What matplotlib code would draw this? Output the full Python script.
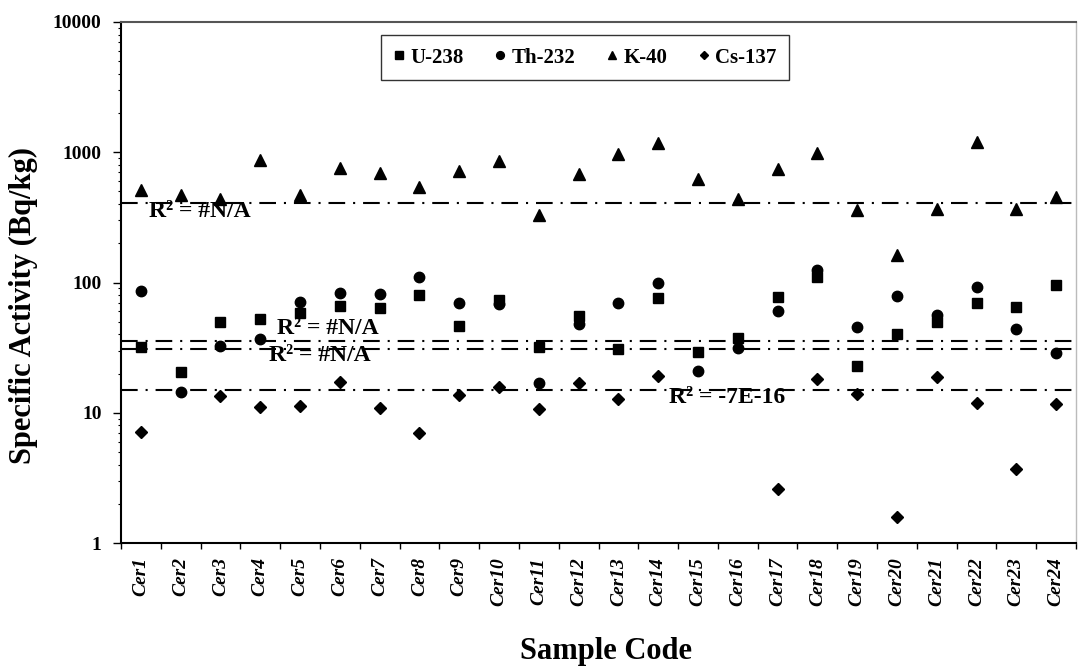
import matplotlib
matplotlib.use("Agg")
import matplotlib.pyplot as plt
import numpy as np

plt.rcParams['font.family'] = ['Liberation Serif', 'DejaVu Serif']
plt.rcParams['font.weight'] = 'bold'

# %% data

samples = ['Cer%d' % i for i in range(1, 25)]

u238 = [32, 20.7, 50, 52.5, 58, 66, 63.4, 80, 46.4, 73.4, 32, 55,
        31, 75.7, 29.4, 37.3, 77.8, 111, 22.9, 40, 50, 70, 64.5, 95.7]
th232 = [86.5, 14.5, 32.7, 36.6, 71, 82.6, 81, 111, 69, 68, 16.8, 48,
         69, 100, 21, 31.3, 60.4, 125, 45.3, 79, 56, 93, 44, 28.6]
k40 = [513, 470, 438, 872, 470, 761, 687, 538, 720, 857, 330, 680,
       970, 1183, 623, 438, 743, 993, 360, 163, 367, 1192, 367, 456]
# no Cs-137 mark is visible for Cer2, Cer15, Cer16
cs137 = [7.08, np.nan, 13.5, 11.0, 11.3, 17.3, 10.8, 7.0, 13.7, 15.9, 10.6, 17,
         12.8, 19.1, np.nan, np.nan, 2.6, 18.1, 13.9, 1.57, 18.9, 11.8, 3.7, 11.6]

# flat trendlines drawn by the spreadsheet, with their labels
trend_levels = [30.7, 35.7, 410, 14.9]
trend_labels = ['R\u00b2 = #N/A', 'R\u00b2 = #N/A', 'R\u00b2 = #N/A', 'R\u00b2 = -7E-16']
label_pos = [(3.23, 27.3), (3.43, 44.7), (0.21, 348), (13.26, 13.0)]

# %% plot

fig = plt.figure(figsize=(10.79, 6.70), dpi=100)
ax = fig.add_axes([121 / 1079, 127 / 670, 955 / 1079, 521 / 670])

x = np.arange(len(samples))
ax.plot(x, u238, 's', color='black', markersize=7, label='U-238')
ax.plot(x, th232, 'o', color='black', markersize=7.5, label='Th-232')
ax.plot(x, k40, '^', color='black', markersize=8, label='K-40')
ax.plot(x, cs137, 'D', color='black', markersize=6, label='Cs-137')

for level in trend_levels:
    ax.axhline(level, color='black', linewidth=1.5, linestyle=(0, (8, 3.8, 1, 3.8)))

for (tx, ty), txt in zip(label_pos, trend_labels):
    ax.text(tx, ty, txt, fontsize=17, fontweight='bold', ha='left', va='center')

ax.set_yscale('log')
ax.set_ylim(1, 10000)
ax.set_xlim(-0.5, len(samples) - 0.5)

ax.set_yticks([1, 10, 100, 1000, 10000])
ax.set_yticklabels(['1', '10', '100', '1000', '10000'])
ax.yaxis.set_minor_locator(matplotlib.ticker.LogLocator(base=10, subs=np.arange(2, 10)))
ax.yaxis.set_minor_formatter(matplotlib.ticker.NullFormatter())
ax.tick_params(axis='y', which='major', length=6, width=1, labelsize=14, pad=8)
ax.tick_params(axis='y', which='minor', length=2.5, width=0.8)

# ticks between the categories, labels on the categories
ax.set_xticks(np.arange(-0.5, len(samples), 1.0))
ax.set_xticklabels([])
ax.set_xticks(x, minor=True)
ax.set_xticklabels(samples, minor=True, rotation=90, fontsize=14,
                   fontstyle='italic', fontweight='bold')
ax.tick_params(axis='x', which='major', length=4, width=1)
ax.tick_params(axis='x', which='minor', length=0, pad=10)

for side in ['left', 'bottom']:
    ax.spines[side].set_linewidth(1.5)
ax.spines['top'].set_color('#555555')
ax.spines['top'].set_linewidth(1.5)
ax.spines['right'].set_color('#bbbbbb')
ax.spines['right'].set_linewidth(1)

leg = ax.legend(loc='upper center', bbox_to_anchor=(0.486, 0.995), ncol=4,
                frameon=True, fancybox=False, markerscale=0.75,
                handlelength=0.5, handletextpad=0.3, columnspacing=1.5,
                borderpad=0.6, prop={'weight': 'bold', 'size': 15})
leg.get_frame().set_edgecolor('black')
leg.get_frame().set_linewidth(1)

fig.text(23 / 1079, 1 - 305 / 670, 'Specific Activity (Bq/kg)', rotation=90,
         fontsize=22, fontweight='bold', ha='center', va='center')
fig.text(606 / 1079, 1 - 652 / 670, 'Sample Code',
         fontsize=22, fontweight='bold', ha='center', va='center')

fig.savefig('out.png', dpi=100)
